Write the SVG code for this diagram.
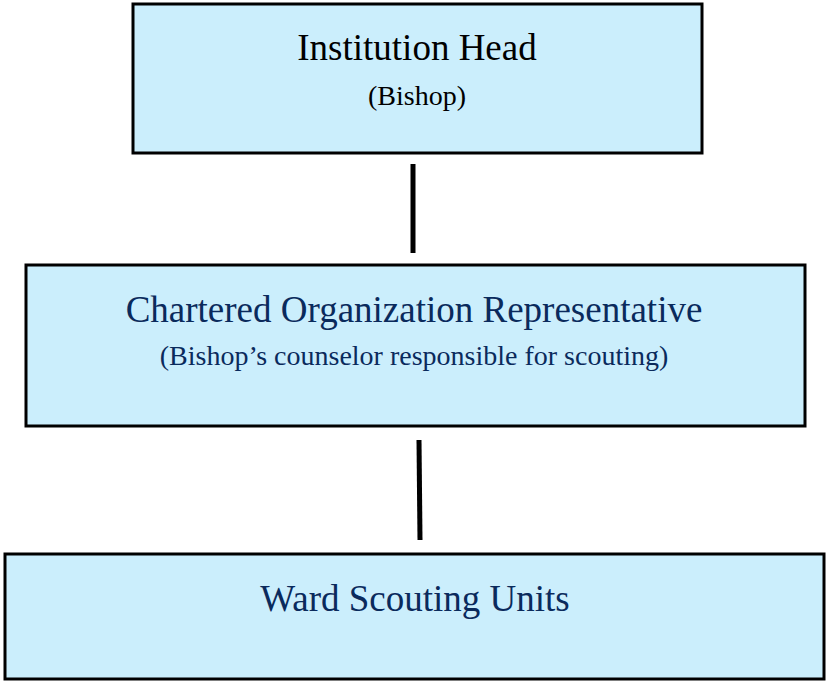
<svg xmlns="http://www.w3.org/2000/svg" width="827" height="682" viewBox="0 0 827 682">
<style>
.box{fill:#cbeefc;stroke:#000;stroke-width:3}
.t{font-family:"Liberation Serif","Times New Roman",serif;text-anchor:middle}
.big{font-size:37px}
.small{font-size:28px}
.blk{fill:#000}
.navy{fill:#0a2a5c}
.conn{stroke:#000;stroke-width:5;fill:none}
</style>
<rect width="827" height="682" fill="#fff"/>
<g id="node-head">
<rect class="box" x="133" y="4" width="569" height="149"/>
<text class="t big blk" x="417" y="60">Institution Head</text>
<text class="t small blk" x="417" y="105">(Bishop)</text>
</g>
<g id="node-cor">
<rect class="box" x="26" y="265" width="779" height="161"/>
<text class="t big navy" x="414" y="322">Chartered Organization Representative</text>
<text class="t small navy" x="414" y="365">(Bishop’s counselor responsible for scouting)</text>
</g>
<g id="node-units">
<rect class="box" x="5" y="554" width="819" height="125"/>
<text class="t big navy" x="415" y="611">Ward Scouting Units</text>
</g>
<g id="connectors">
<line class="conn" x1="413" y1="164" x2="413" y2="253"/>
<line class="conn" x1="419" y1="440" x2="420" y2="540"/>
</g>
</svg>
